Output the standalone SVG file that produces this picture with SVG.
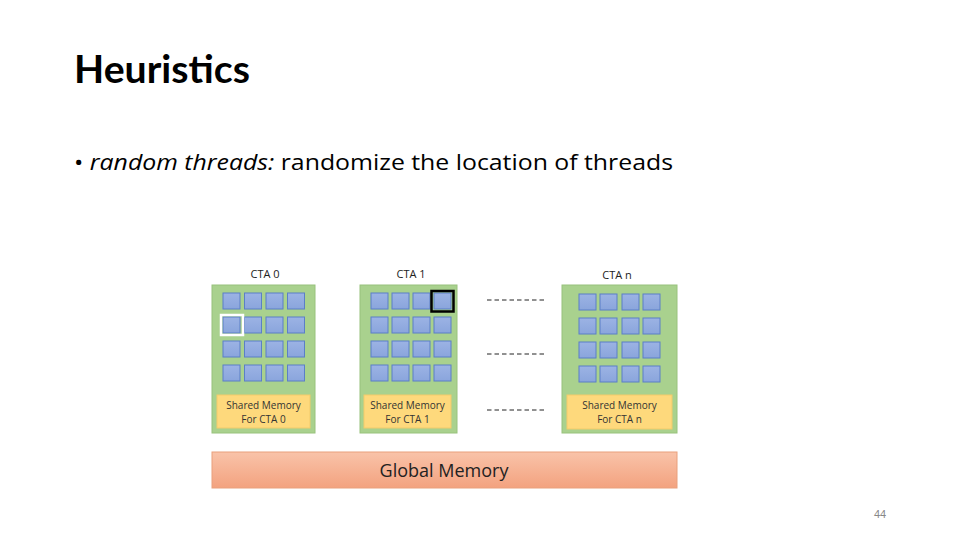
<svg xmlns="http://www.w3.org/2000/svg" width="960" height="540" viewBox="0 0 960 540">
<defs>
<linearGradient id="gm" x1="0" y1="0" x2="0" y2="1"><stop offset="0" stop-color="#f9c3a9"/><stop offset="1" stop-color="#f3a27f"/></linearGradient>
<linearGradient id="sq" x1="0" y1="0" x2="0" y2="1"><stop offset="0" stop-color="#9cb3e4"/><stop offset="1" stop-color="#8aa5dc"/></linearGradient>
</defs>
<style>
.cta{fill:#a9d18e;stroke:#98c27c;stroke-width:1}
.t{fill:url(#sq);stroke:#5b7fc7;stroke-width:1}
.sm{fill:#fed97c;stroke:#f3cb6a;stroke-width:1}
.lbl{font-family:"Open Sans","Liberation Sans",sans-serif;font-size:11px;fill:#222;text-anchor:middle}
.sml{font-family:"Open Sans","Liberation Sans",sans-serif;font-size:10px;fill:#333;text-anchor:middle}
.dash{stroke:#222;stroke-width:1;stroke-dasharray:4.5,3;fill:none}
</style>
<rect width="960" height="540" fill="#fff"/>
<text x="74" y="83" font-family="Lato,'Open Sans',sans-serif" font-weight="bold" font-size="39" textLength="176" lengthAdjust="spacingAndGlyphs" fill="#000">Heuristics</text>
<text x="74" y="170" font-family="'Open Sans','Liberation Sans',sans-serif" font-size="22" fill="#000" textLength="599" lengthAdjust="spacingAndGlyphs">• <tspan font-style="italic">random threads:</tspan> randomize the location of threads</text>

<g id="cta0">
<text class="lbl" x="265" y="278">CTA 0</text>
<rect class="cta" x="212" y="285" width="103" height="148"/>
<g>
<rect class="t" x="223" y="293" width="17" height="16"/><rect class="t" x="244.5" y="293" width="17" height="16"/><rect class="t" x="266" y="293" width="17" height="16"/><rect class="t" x="287.5" y="293" width="17" height="16"/>
<rect class="t" x="223" y="317" width="17" height="16"/><rect class="t" x="244.5" y="317" width="17" height="16"/><rect class="t" x="266" y="317" width="17" height="16"/><rect class="t" x="287.5" y="317" width="17" height="16"/>
<rect class="t" x="223" y="341" width="17" height="16"/><rect class="t" x="244.5" y="341" width="17" height="16"/><rect class="t" x="266" y="341" width="17" height="16"/><rect class="t" x="287.5" y="341" width="17" height="16"/>
<rect class="t" x="223" y="365" width="17" height="16"/><rect class="t" x="244.5" y="365" width="17" height="16"/><rect class="t" x="266" y="365" width="17" height="16"/><rect class="t" x="287.5" y="365" width="17" height="16"/>
</g>
<rect x="221" y="315" width="22" height="20" fill="none" stroke="#fff" stroke-width="2.5"/>
<rect class="sm" x="217" y="395" width="93" height="33"/>
<text class="sml" x="263.5" y="409">Shared Memory</text>
<text class="sml" x="263.5" y="423">For CTA 0</text>
</g>

<g id="cta1">
<text class="lbl" x="411" y="278">CTA 1</text>
<rect class="cta" x="360" y="285" width="97" height="148"/>
<g>
<rect class="t" x="371" y="293" width="17" height="16"/><rect class="t" x="392" y="293" width="17" height="16"/><rect class="t" x="413" y="293" width="17" height="16"/><rect class="t" x="434" y="293" width="17" height="16"/>
<rect class="t" x="371" y="317" width="17" height="16"/><rect class="t" x="392" y="317" width="17" height="16"/><rect class="t" x="413" y="317" width="17" height="16"/><rect class="t" x="434" y="317" width="17" height="16"/>
<rect class="t" x="371" y="341" width="17" height="16"/><rect class="t" x="392" y="341" width="17" height="16"/><rect class="t" x="413" y="341" width="17" height="16"/><rect class="t" x="434" y="341" width="17" height="16"/>
<rect class="t" x="371" y="365" width="17" height="16"/><rect class="t" x="392" y="365" width="17" height="16"/><rect class="t" x="413" y="365" width="17" height="16"/><rect class="t" x="434" y="365" width="17" height="16"/>
</g>
<rect x="431.5" y="291" width="22" height="20.5" fill="none" stroke="#000" stroke-width="2.5"/>
<rect class="sm" x="364" y="395" width="87" height="33"/>
<text class="sml" x="407.5" y="409">Shared Memory</text>
<text class="sml" x="407.5" y="423">For CTA 1</text>
</g>

<g id="dots">
<line class="dash" x1="487" y1="300" x2="545" y2="300"/>
<line class="dash" x1="487" y1="354" x2="545" y2="354"/>
<line class="dash" x1="487" y1="410" x2="545" y2="410"/>
</g>

<g id="ctan">
<text class="lbl" x="617" y="279">CTA n</text>
<rect class="cta" x="562" y="285" width="115" height="148"/>
<g>
<rect class="t" x="579" y="294" width="17" height="16"/><rect class="t" x="600" y="294" width="17" height="16"/><rect class="t" x="622" y="294" width="17" height="16"/><rect class="t" x="643" y="294" width="17" height="16"/>
<rect class="t" x="579" y="318" width="17" height="16"/><rect class="t" x="600" y="318" width="17" height="16"/><rect class="t" x="622" y="318" width="17" height="16"/><rect class="t" x="643" y="318" width="17" height="16"/>
<rect class="t" x="579" y="342" width="17" height="16"/><rect class="t" x="600" y="342" width="17" height="16"/><rect class="t" x="622" y="342" width="17" height="16"/><rect class="t" x="643" y="342" width="17" height="16"/>
<rect class="t" x="579" y="366" width="17" height="16"/><rect class="t" x="600" y="366" width="17" height="16"/><rect class="t" x="622" y="366" width="17" height="16"/><rect class="t" x="643" y="366" width="17" height="16"/>
</g>
<rect class="sm" x="567" y="395" width="105" height="34"/>
<text class="sml" x="619.5" y="409">Shared Memory</text>
<text class="sml" x="619.5" y="423">For CTA n</text>
</g>

<g id="global">
<rect x="212" y="452" width="465" height="36" fill="url(#gm)" stroke="#e9a07c" stroke-width="1"/>
<text x="444" y="477" font-family="'Open Sans','Liberation Sans',sans-serif" font-size="18" fill="#222" text-anchor="middle">Global Memory</text>
</g>

<text x="880" y="518" font-family="'Liberation Sans',sans-serif" font-size="11" fill="#888" text-anchor="middle">44</text>
</svg>
